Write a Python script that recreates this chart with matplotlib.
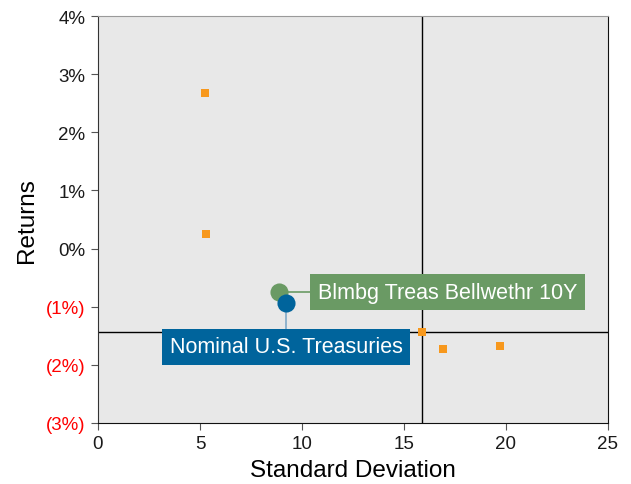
import matplotlib
matplotlib.use("Agg")
from matplotlib import pyplot as plt

plt.rcParams["font.family"] = ["Liberation Sans", "DejaVu Sans"]

# data
other_sd = [5.26, 5.31, 15.88, 16.93, 19.72]
other_ret = [2.67, 0.245, -1.44, -1.73, -1.68]

bench_sd = 15.88
bench_ret = -1.44

label_names = ["Blmbg Treas Bellwethr 10Y", "Nominal U.S. Treasuries"]
label_sd = [8.89, 9.22]
label_ret = [-0.75, -0.93]
label_colors = ["#6a9a64", "#00649c"]
leader_colors = ["#6a9a64", "#7fa9c8"]

yticks = [-3, -2, -1, 0, 1, 2, 3, 4]
xticks = [0, 5, 10, 15, 20, 25]


def pct_label(v):
    if v < 0:
        return "(%d%%)" % abs(v)
    return "%d%%" % v


fig = plt.figure(figsize=(6.31, 4.85), dpi=100)
ax = fig.add_axes([0.1553, 0.1258, 0.8082, 0.8391])
ax.set_facecolor("#e8e8e8")
ax.set_xlim(0, 25)
ax.set_ylim(-3, 4)

# benchmark crosshair
ax.axvline(bench_sd, color="black", lw=1, zorder=1)
ax.axhline(bench_ret, color="black", lw=1, zorder=1)

ax.scatter(other_sd, other_ret, marker="s", s=32, color="#f7981d", zorder=3, linewidths=0)

# green label: leader to the right
ax.plot([label_sd[0], 10.5], [label_ret[0], label_ret[0]], color=leader_colors[0], lw=1.2, zorder=2)
ax.text(10.78, label_ret[0], label_names[0], color="white", fontsize=15.5, va="center", ha="left",
        bbox=dict(boxstyle="square,pad=0.36", fc=label_colors[0], ec="none"), zorder=4)

# blue label: leader going down
ax.plot([label_sd[1], label_sd[1]], [label_ret[1], -1.5], color=leader_colors[1], lw=1.2, zorder=2)
ax.text(label_sd[1], -1.69, label_names[1], color="white", fontsize=15.5, va="center", ha="center",
        bbox=dict(boxstyle="square,pad=0.36", fc=label_colors[1], ec="none"), zorder=4)

ax.scatter(label_sd[0], label_ret[0], s=170, color=label_colors[0], zorder=5, linewidths=0)
ax.scatter(label_sd[1], label_ret[1], s=170, color=label_colors[1], zorder=5, linewidths=0)

ax.set_xticks(xticks)
ax.set_xticklabels([str(x) for x in xticks], fontsize=13.5)
ax.set_yticks(yticks)
ax.set_yticklabels([pct_label(v) for v in yticks], fontsize=13.5)
for lab, v in zip(ax.get_yticklabels(), yticks):
    lab.set_color("red" if v < 0 else "#1a1a1a")
for lab in ax.get_xticklabels():
    lab.set_color("#1a1a1a")

ax.tick_params(direction="out", length=5, color="#555555", pad=4)
ax.spines["top"].set_color("#9a9a9a")
ax.spines["right"].set_color("#111111")
ax.spines["left"].set_color("#333333")
ax.spines["bottom"].set_color("#111111")

ax.set_xlabel("Standard Deviation", fontsize=17.5, labelpad=5)
ax.set_ylabel("Returns", fontsize=17.5, labelpad=6)

fig.savefig("out.png", dpi=100)
